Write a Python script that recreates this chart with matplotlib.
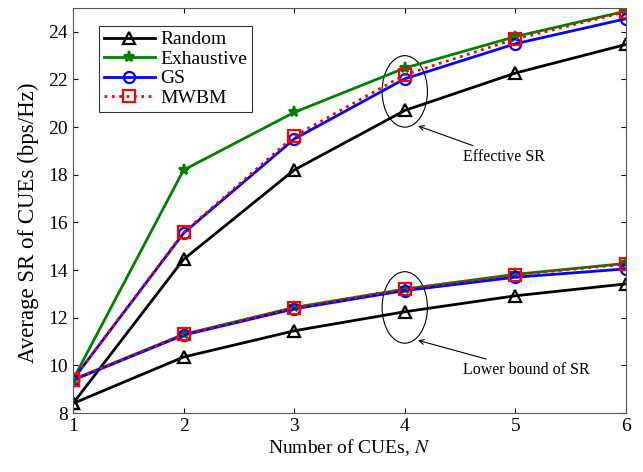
import numpy as np
import matplotlib
matplotlib.use("Agg")
import matplotlib.pyplot as plt
from matplotlib.patches import Ellipse

# Veriler
N = [1, 2, 3, 4, 5, 6]
eff_random = [8.4, 14.45, 18.2, 20.7, 22.27, 23.47]
eff_exhaustive = [9.4, 18.2, 20.62, 22.48, 23.8, 24.87]
eff_gs = [9.4, 15.55, 19.5, 22.03, 23.5, 24.55]
eff_mwbm = [9.4, 15.58, 19.62, 22.2, 23.7, 24.84]

low_random = [8.4, 10.35, 11.45, 12.25, 12.92, 13.42]
low_exhaustive = [9.4, 11.3, 12.43, 13.2, 13.82, 14.28]
low_gs = [9.38, 11.27, 12.37, 13.14, 13.7, 14.05]
low_mwbm = [9.4, 11.3, 12.42, 13.2, 13.8, 14.25]

plt.rcParams['font.family'] = ['Liberation Serif', 'DejaVu Serif']
plt.rcParams['mathtext.fontset'] = 'stix'

fig = plt.figure(figsize=(6.43, 4.72), dpi=100)
ax = fig.add_axes([0.1135, 0.125, 0.86, 0.858])

green = (0, 0.5, 0)
kw = dict(lw=2, ms=8, mew=1.6)

ax.plot(N, eff_random, '-^', color='k', mfc='none', label='Random', **kw)
ax.plot(N, eff_exhaustive, '-*', color=green, label='Exhaustive', **kw)
ax.plot(N, eff_gs, '-o', color='b', mfc='none', label='GS', **kw)
ax.plot(N, eff_mwbm, ':s', color='r', mfc='none', label='MWBM', **kw)

ax.plot(N, low_random, '-^', color='k', mfc='none', **kw)
ax.plot(N, low_exhaustive, '-*', color=green, **kw)
ax.plot(N, low_gs, '-o', color='b', mfc='none', **kw)
ax.plot(N, low_mwbm, ':s', color='r', mfc='none', **kw)

# Elipsler ve açıklamalar
ax.add_patch(Ellipse((4, 21.5), 0.41, 3.0, fill=False, ec='k', lw=0.8))
ax.add_patch(Ellipse((4, 12.43), 0.41, 3.0, fill=False, ec='k', lw=0.8))
ax.annotate('Effective SR', xy=(4.12, 20.05), xytext=(4.53, 18.75),
            fontsize=11.5, va='center',
            arrowprops=dict(arrowstyle='->,head_length=0.3,head_width=0.15',
                            color='k', lw=0.8, shrinkA=1, shrinkB=0))
ax.annotate('Lower bound of SR', xy=(4.12, 11.05), xytext=(4.53, 9.8),
            fontsize=11.5, va='center',
            arrowprops=dict(arrowstyle='->,head_length=0.3,head_width=0.15',
                            color='k', lw=0.8, shrinkA=1, shrinkB=0))

ax.set_xlim(1, 6)
ax.set_ylim(8, 25)
ax.set_xticks(N)
ax.set_yticks(np.arange(8, 25, 2))
ax.tick_params(direction='in', top=True, right=True, labelsize=14)
for s in ax.spines.values():
    s.set_color('#555555')

ax.set_xlabel('Number of CUEs, $N$', fontsize=14, labelpad=2)
ax.set_ylabel('Average SR of CUEs (bps/Hz)', fontsize=16.5)
ax.yaxis.set_label_coords(-0.062, 0.47)

leg = ax.legend(loc='upper left', fontsize=14, fancybox=False, edgecolor='k',
                handlelength=2.6, borderpad=0.25, labelspacing=0.1,
                handletextpad=0.3, bbox_to_anchor=(0.03, 0.98))
leg.get_frame().set_linewidth(0.8)

fig.savefig('out.png', dpi=100)
